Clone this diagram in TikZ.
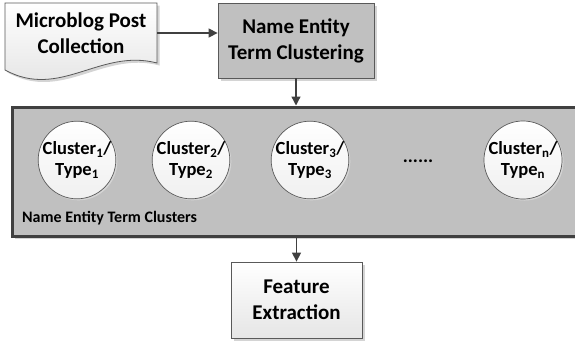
\documentclass[tikz,border=0pt]{standalone}
\usepackage{fontspec}
\setmainfont{Carlito}
\usetikzlibrary{arrows.meta,shadows}
\definecolor{boxgray}{HTML}{C0C0C0}
\definecolor{edge}{HTML}{595959}
\definecolor{dark}{HTML}{404040}
\definecolor{shad}{HTML}{D4D4D4}
\tikzset{
  bigfont/.style={font=\bfseries\fontsize{21}{26}\selectfont},
  circfont/.style={font=\bfseries\fontsize{18.5}{21}\selectfont},
  procbox/.style={draw=edge, line width=0.8pt, align=center, inner sep=0pt, bigfont,
    drop shadow={shadow xshift=2.5pt, shadow yshift=-2.5pt, fill=shad, opacity=1}},
  clus/.style={circle, draw=edge, line width=0.7pt, minimum size=75pt, inner sep=0pt,
    align=center, circfont, top color=white, bottom color=white!94!black,
    drop shadow={shadow xshift=1.5pt, shadow yshift=-1.5pt, fill=shad, opacity=1}},
  arr/.style={draw=dark, line width=1.3pt, -{Triangle[length=9pt,width=9pt]}}
}
\begin{document}
\begin{tikzpicture}[x=1pt,y=-1pt]
\useasboundingbox (0,0) rectangle (575,341);
% document shape
\fill[shad] (7.5,5.5) -- (159.5,5.5) -- (159.5,65.5) .. controls (102.5,50.5) and (62.5,102.5) .. (7.5,72.5) -- cycle;
\path[draw=edge, line width=0.8pt, top color=white, bottom color=white!88!black]
  (5,3) -- (157,3) -- (157,63) .. controls (100,48) and (60,100) .. (5,70) -- cycle;
\node[bigfont, align=center, minimum width=152pt, minimum height=60pt, inner sep=0pt] (doc) at (81,33) {Microblog Post\\Collection};
% clustering box
\node[procbox, fill=boxgray, minimum width=156pt, minimum height=75pt] (cl) at (296,40.5) {Name Entity\\Term Clustering};
% clusters container (extends past the right edge)
\node[draw=dark, line width=3pt, fill=boxgray, minimum width=570pt, minimum height=129pt,
  drop shadow={shadow xshift=2.5pt, shadow yshift=-2.5pt, fill=shad, opacity=1}] (box) at (297,171.5) {};
\node[clus] (c1) at (77,160) {Cluster\textsubscript{1}/\\Type\textsubscript{1}};
\node[clus] (c2) at (191,160) {Cluster\textsubscript{2}/\\Type\textsubscript{2}};
\node[clus] (c3) at (310,160) {Cluster\textsubscript{3}/\\Type\textsubscript{3}};
\node[font=\bfseries\fontsize{19}{21}\selectfont] (dots) at (418,161) {......};
\node[clus] (cn) at (523,160) {Cluster\textsubscript{n}/\\Type\textsubscript{n}};
\node[anchor=west, inner sep=0pt, font=\bfseries\fontsize{16}{18}\selectfont] (lbl) at (22,218) {Name Entity Term Clusters};
% feature extraction
\node[procbox, top color=white, bottom color=white!90!black, minimum width=131pt, minimum height=76pt] (fe) at (296.5,300) {Feature\\Extraction};
% arrows
\draw[arr] (doc.east) -- (cl.west |- doc.east);
\draw[arr] (cl.south) -- (cl.south |- box.north);
\draw[arr] (box.south -| fe.north) -- (fe.north);
\end{tikzpicture}
\end{document}
